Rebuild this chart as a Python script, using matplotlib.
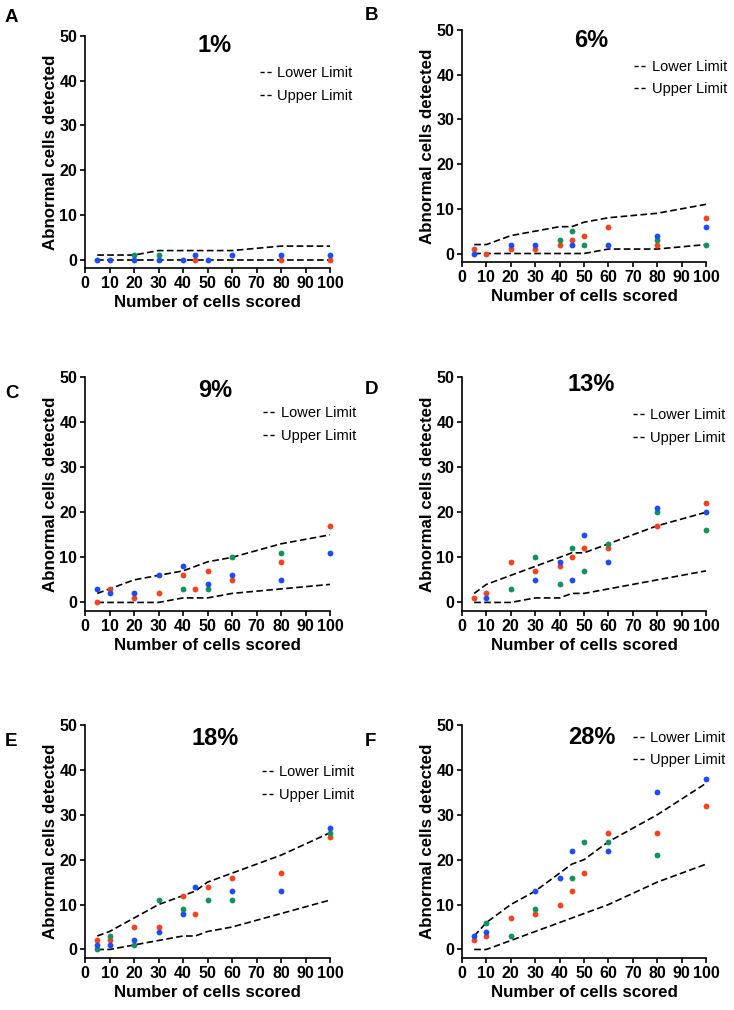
import numpy as np
import matplotlib
matplotlib.use("Agg")
import matplotlib.pyplot as plt
from matplotlib.lines import Line2D

plt.rcParams["font.family"] = ["Liberation Sans", "DejaVu Sans"]

N = np.nan

# =========================
# DATA
# =========================
cells = [5, 10, 20, 30, 40, 45, 50, 60, 80, 100]

titles = ["1%", "6%", "9%", "13%", "18%", "28%"]
letters = ["A", "B", "C", "D", "E", "F"]

# A - 1%
a_lower = [0, 0, 0, 0, 0, 0, 0, 0, 0, 0]
a_upper = [1, 1, 1, 2, 2, 2, 2, 2, 3, 3]
a_red = [N, N, N, N, N, 0, N, N, 0, 0]
a_blue = [0, 0, 0, 0, 0, 1, 0, 1, 1, 1]
a_green = [N, N, 1, 1, N, N, N, N, N, N]

# B - 6%
b_lower = [0, 0, 0, 0, 0, 0, 0, 1, 1, 2]
b_upper = [2, 2, 4, 5, 6, 6, 7, 8, 9, 11]
b_red = [1, 0, 1, 1, 2, 3, 4, 6, 2, 8]
b_blue = [0, N, 2, 2, N, 2, N, 2, 4, 6]
b_green = [N, N, N, N, 3, 5, 2, N, 3, 2]

# C - 9%
c_lower = [0, 0, 0, 0, 1, 1, 1, 2, 3, 4]
c_upper = [2, 3, 5, 6, 7, 8, 9, 10, 13, 15]
c_red = [0, 3, 1, 2, 6, 3, 7, 5, 9, 17]
c_blue = [3, 2, 2, 6, 8, N, 4, 6, 5, 11]
c_green = [N, N, N, N, 3, N, 3, 10, 11, N]

# D - 13%
d_lower = [0, 0, 0, 1, 1, 2, 2, 3, 5, 7]
d_upper = [2, 4, 6, 8, 10, 11, 11, 13, 17, 20]
d_red = [1, 2, 9, 7, 8, 10, 12, 12, 17, 22]
d_blue = [N, 1, N, 5, 9, 5, 15, 9, 21, 20]
d_green = [N, N, 3, 10, 4, 12, 7, 13, 20, 16]

# E - 18%
e_lower = [0, 0, 1, 2, 3, 3, 4, 5, 8, 11]
e_upper = [3, 4, 7, 10, 12, 13, 15, 17, 21, 26]
e_red = [2, 2, 5, 5, 12, 8, 14, 16, 17, 25]
e_blue = [1, 1, 2, 4, 8, 14, N, 13, 13, 27]
e_green = [0, 3, 1, 11, 9, N, 11, 11, N, 26]

# F - 28%
f_lower = [0, 0, 2, 4, 6, 7, 8, 10, 15, 19]
f_upper = [3, 6, 10, 13, 17, 19, 20, 24, 30, 37]
f_red = [2, 3, 7, 8, 10, 13, 17, 26, 26, 32]
f_blue = [3, 4, N, 13, 16, 22, N, 22, 35, 38]
f_green = [N, 6, 3, 9, N, 16, 24, 24, 21, N]

lowers = [a_lower, b_lower, c_lower, d_lower, e_lower, f_lower]
uppers = [a_upper, b_upper, c_upper, d_upper, e_upper, f_upper]
reds = [a_red, b_red, c_red, d_red, e_red, f_red]
blues = [a_blue, b_blue, c_blue, d_blue, e_blue, f_blue]
greens = [a_green, b_green, c_green, d_green, e_green, f_green]

# =========================
# LAYOUT (pixel boxes: left, top, right, bottom)
# =========================
W, H = 734, 1010
boxes = [
    (85, 36, 330, 268),
    (462, 30, 706, 262),
    (85, 377, 330, 611),
    (462, 377, 706, 611),
    (85, 725, 330, 958),
    (462, 725, 706, 958),
]
legend_xy = [(0.714, 0.791), (0.705, 0.793), (0.727, 0.797),
             (0.700, 0.788), (0.722, 0.749), (0.700, 0.897)]
title_y = [0.961, 0.953, 0.944, 0.966, 0.944, 0.948]
letter_xy = [(5, 17), (365, 15), (5, 393), (365, 390), (5, 741), (365, 741)]

RED = "#F8401C"
BLUE = "#1B4CFB"
GREEN = "#12925C"

fig = plt.figure(figsize=(W / 100, H / 100), dpi=100)

for i in range(6):
    l, t, r, b = boxes[i]
    ax = fig.add_axes([l / W, 1 - b / H, (r - l) / W, (b - t) / H])

    # sınır çizgileri
    ax.plot(cells, lowers[i], color="black", lw=1.2, ls=(0, (4, 2)), zorder=2)
    ax.plot(cells, uppers[i], color="black", lw=1.2, ls=(0, (4, 2)), zorder=2)

    # gözlemler
    for vals, col in [(reds[i], RED), (greens[i], GREEN), (blues[i], BLUE)]:
        ax.plot(cells, vals, "o", color=col, ms=4.2, mec="none",
                clip_on=False, zorder=3)

    ax.set_xlim(0, 100)
    ax.set_ylim(-1.9, 50)
    ax.set_xticks(range(0, 101, 10))
    ax.set_yticks(range(0, 51, 10))
    ax.spines["top"].set_visible(False)
    ax.spines["right"].set_visible(False)
    ax.spines["left"].set_linewidth(1.2)
    ax.spines["bottom"].set_linewidth(1.2)
    ax.tick_params(axis="both", length=3.5, width=1.2, pad=2,
                   labelsize=11.5)
    for lab in ax.get_xticklabels() + ax.get_yticklabels():
        lab.set_fontweight("bold")

    ax.set_xlabel("Number of cells scored", fontsize=12.2,
                  fontweight="bold", labelpad=3)
    ax.set_ylabel("Abnormal cells detected", fontsize=12.2,
                  fontweight="bold", labelpad=1)

    ax.text(0.53, title_y[i], titles[i], transform=ax.transAxes,
            ha="center", va="center", fontsize=17, fontweight="bold")

    handles = [Line2D([], [], color="black", lw=1.0, ls=(0, (3, 2))),
               Line2D([], [], color="black", lw=1.0, ls=(0, (3, 2)))]
    ax.legend(handles, ["Lower Limit", "Upper Limit"], loc="center left",
              bbox_to_anchor=legend_xy[i], frameon=False, fontsize=10.5,
              handlelength=0.85, handletextpad=0.35, labelspacing=0.6,
              borderpad=0, borderaxespad=0)

    lx, ly = letter_xy[i]
    fig.text(lx / W, 1 - ly / H, letters[i], ha="left", va="center",
             fontsize=13.5, fontweight="bold")

fig.savefig("out.png", dpi=100)
